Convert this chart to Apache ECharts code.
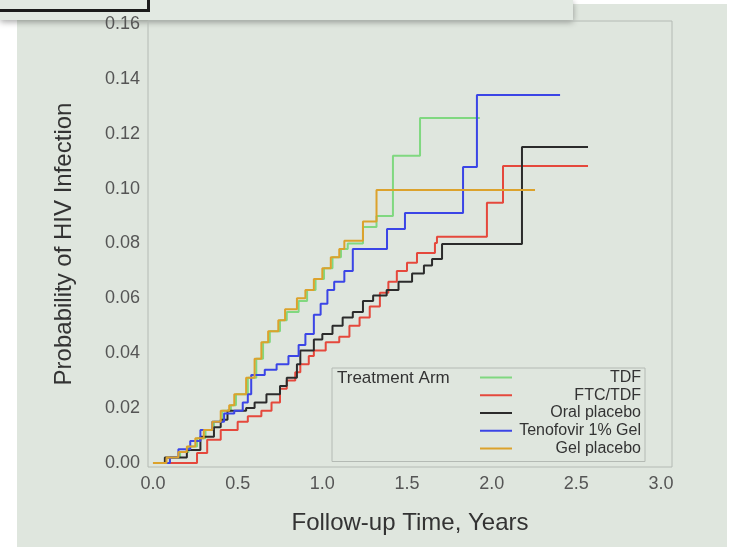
<!DOCTYPE html>
<html>
<head>
<meta charset="utf-8">
<script src="https://cdn.jsdelivr.net/npm/echarts@6/dist/echarts.min.js"></script>
<style>
html,body{margin:0;padding:0;background:#fff;}
#c{width:732px;height:547px;}
</style>
</head>
<body>
<div id="c"></div>
<script>
// ---- data ----
const seriesNames = ['TDF', 'FTC/TDF', 'Oral placebo', 'Tenofovir 1% Gel', 'Gel placebo'];
const seriesColors = ['#80d880', '#e5483c', '#2b2b2b', '#3b45e6', '#dca22c'];

const tdf = [[0,0],[0.1,0.002],[0.16,0.004],[0.21,0.006],[0.26,0.009],[0.31,0.012],[0.36,0.015],[0.41,0.019],[0.46,0.021],[0.49,0.025],[0.56,0.031],[0.61,0.038],[0.65,0.044],[0.69,0.048],[0.75,0.052],[0.79,0.055],[0.86,0.059],[0.91,0.063],[0.96,0.067],[1.01,0.071],[1.06,0.075],[1.11,0.078],[1.15,0.080],[1.24,0.086],[1.32,0.0900],[1.417,0.112],[1.577,0.1257],[1.93,0.1257]];
const ftcTdf = [[0,0],[0.26,0.0036],[0.32,0.0084],[0.4,0.012],[0.5,0.015],[0.56,0.017],[0.64,0.019],[0.7,0.022],[0.75,0.027],[0.79,0.030],[0.84,0.033],[0.87,0.036],[0.92,0.039],[0.95,0.041],[1.02,0.044],[1.1,0.046],[1.16,0.050],[1.22,0.053],[1.28,0.057],[1.34,0.062],[1.39,0.066],[1.44,0.070],[1.5,0.073],[1.559,0.0765],[1.665,0.0802],[1.677,0.0824],[1.972,0.0948],[2.067,0.1082],[2.569,0.1082]];
const oralPlacebo = [[0,0],[0.07,0.002],[0.2,0.0047],[0.28,0.0095],[0.36,0.013],[0.4,0.0157],[0.44,0.019],[0.55,0.020],[0.6,0.022],[0.67,0.025],[0.75,0.028],[0.79,0.031],[0.85,0.036],[0.87,0.041],[0.95,0.045],[1.0,0.047],[1.06,0.050],[1.12,0.053],[1.18,0.055],[1.24,0.059],[1.3,0.061],[1.38,0.063],[1.45,0.066],[1.53,0.069],[1.6,0.072],[1.648,0.0743],[1.707,0.0798],[2.179,0.1152],[2.569,0.1152]];
const tenofovirGel = [[0,0],[0.1,0.002],[0.15,0.005],[0.22,0.008],[0.28,0.012],[0.35,0.015],[0.42,0.018],[0.48,0.019],[0.53,0.022],[0.56,0.025],[0.58,0.032],[0.66,0.034],[0.73,0.036],[0.8,0.039],[0.86,0.043],[0.9,0.047],[0.95,0.054],[0.99,0.058],[1.03,0.063],[1.07,0.066],[1.13,0.070],[1.18,0.078],[1.382,0.0853],[1.488,0.0911],[1.831,0.1079],[1.913,0.1341],[2.404,0.1341]];
const gelPlacebo = [[0,0],[0.08,0.002],[0.15,0.004],[0.2,0.006],[0.25,0.009],[0.3,0.012],[0.35,0.015],[0.4,0.019],[0.45,0.021],[0.48,0.025],[0.55,0.031],[0.6,0.038],[0.64,0.044],[0.68,0.048],[0.74,0.052],[0.78,0.056],[0.85,0.060],[0.9,0.063],[0.95,0.067],[1.0,0.071],[1.05,0.075],[1.1,0.078],[1.13,0.081],[1.24,0.088],[1.32,0.0995],[2.256,0.0995]];

const allSeries = [tdf, ftcTdf, oralPlacebo, tenofovirGel, gelPlacebo];
const xTicks = [0, 0.5, 1.0, 1.5, 2.0, 2.5, 3.0];
const yTicks = [0, 0.02, 0.04, 0.06, 0.08, 0.10, 0.12, 0.14, 0.16];
const xTitle = 'Follow-up Time, Years';
const yTitle = 'Probability of HIV Infection';
const legendTitle = 'Treatment Arm';

// ---- chart ----
const chart = echarts.init(document.getElementById('c'), null, {renderer: 'canvas'});
const FONT = '"Liberation Sans", Arial, sans-serif';

const option = {
  backgroundColor: '#ffffff',
  animation: false,
  graphic: [
    {type: 'rect', z: -20, silent: true, shape: {x: 17, y: 4, width: 710, height: 543}, style: {fill: '#dfe6de'}},
    {type: 'rect', z: -10, silent: true, shape: {x: 0, y: 0, width: 573, height: 20},
      style: {fill: '#e2e9e2', shadowBlur: 6, shadowColor: 'rgba(0,0,0,0.35)', shadowOffsetY: 2}},
    {type: 'rect', z: -9, silent: true, shape: {x: 0, y: 9, width: 150, height: 3}, style: {fill: '#1c1c1c'}},
    {type: 'rect', z: -9, silent: true, shape: {x: 147, y: 0, width: 3, height: 12}, style: {fill: '#1c1c1c'}},
    {type: 'text', z: 100, left: 337, top: 370, style: {text: legendTitle, font: '17px ' + FONT, fill: '#333'}}
  ],
  grid: {
    left: 148, right: 60, top: 21, bottom: 80,
    show: true, borderColor: '#b4bab4', borderWidth: 1, backgroundColor: 'transparent'
  },
  legend: {
    orient: 'vertical',
    left: 332, top: 368,
    padding: [1.5, 4, 5, 148],
    itemGap: 1.75,
    itemWidth: 32, itemHeight: 2,
    itemTextGap: 1,
    icon: 'rect',
    borderColor: '#b4bab4', borderWidth: 1,
    data: seriesNames,
    formatter: function (n) { return '{r|' + n + '}'; },
    textStyle: {
      fontFamily: FONT, fontSize: 16, color: '#333',
      rich: {r: {width: 124, align: 'right', fontSize: 16, fontFamily: FONT, color: '#333'}}
    }
  },
  xAxis: {
    type: 'value', min: -0.0295, max: 3.065,
    axisLine: {show: false}, axisTick: {show: false}, splitLine: {show: false},
    axisLabel: {customValues: xTicks, formatter: v => v.toFixed(1), fontFamily: FONT, fontSize: 18, color: '#555', margin: 8},
    name: xTitle, nameLocation: 'middle', nameGap: 44,
    nameTextStyle: {fontFamily: FONT, fontSize: 24, color: '#333'}
  },
  yAxis: {
    type: 'value', min: -0.0015, max: 0.1611,
    axisLine: {show: false}, axisTick: {show: false}, splitLine: {show: false},
    axisLabel: {customValues: yTicks, formatter: v => v.toFixed(2), fontFamily: FONT, fontSize: 18, color: '#555', margin: 8},
    name: yTitle, nameLocation: 'middle', nameGap: 72, nameRotate: 90,
    nameTextStyle: {fontFamily: FONT, fontSize: 24, color: '#333'}
  },
  series: seriesNames.map((n, i) => ({
    name: n, type: 'line', step: 'end', data: allSeries[i],
    symbol: 'none', color: seriesColors[i],
    lineStyle: {width: 2, color: seriesColors[i]}
  }))
};
chart.setOption(option);
</script>
</body>
</html>
